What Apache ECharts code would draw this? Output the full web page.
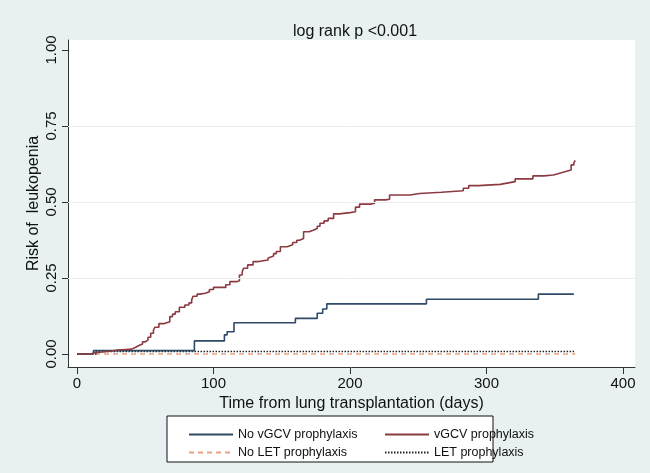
<!DOCTYPE html>
<html>
<head>
<meta charset="utf-8">
<script src="https://cdn.jsdelivr.net/npm/echarts@6/dist/echarts.min.js"></script>
<style>
  html, body { margin: 0; padding: 0; background: #e8f0f2; }
  #chart { width: 650px; height: 473px; }
</style>
</head>
<body>
<div id="chart"></div>
<script>
// tick labels
const xTicks = [0, 100, 200, 300, 400];
const yTicks = [0, 0.25, 0.5, 0.75, 1];
const yGrid = [0.25, 0.5, 0.75];

// No vGCV prophylaxis (step points: day -> cumulative risk)
const noVgcvDays = [0, 12, 86, 108, 110, 115, 160, 176, 180, 183, 256, 338, 364];
const noVgcvRisk = [0, 0.011, 0.043, 0.063, 0.073, 0.103, 0.117, 0.134, 0.148, 0.165, 0.18, 0.197, 0.197];

// vGCV prophylaxis
const vgcvDays = [0, 10, 13, 24, 30, 36, 40, 43, 45, 48, 50, 52, 54, 56, 57, 60, 64, 68, 70, 72,
  75, 79, 82, 84, 85, 88, 90, 94, 97, 100, 109, 112, 117, 119, 121, 122, 125, 129, 133, 140,
  141, 144, 146, 149, 154, 158, 161, 163, 166, 170, 173, 176, 178, 181, 184, 188, 192, 200, 204, 207,
  215, 218, 226, 229, 244, 251, 267, 283, 287, 294, 310, 316, 321, 334, 342, 349, 353, 358, 362, 364, 365];
const vgcvRisk = [0, 0.004, 0.009, 0.013, 0.015, 0.016, 0.022, 0.027, 0.033, 0.04, 0.046, 0.055, 0.068, 0.078, 0.088, 0.1, 0.106, 0.123, 0.131, 0.139,
  0.154, 0.161, 0.168, 0.178, 0.19, 0.197, 0.2, 0.205, 0.212, 0.219, 0.228, 0.238, 0.241, 0.26, 0.27, 0.282, 0.293, 0.304, 0.309, 0.316,
  0.322, 0.33, 0.337, 0.353, 0.359, 0.367, 0.374, 0.38, 0.402, 0.407, 0.413, 0.42, 0.43, 0.438, 0.446, 0.461, 0.465, 0.468, 0.483, 0.493,
  0.496, 0.507, 0.509, 0.523, 0.528, 0.532, 0.537, 0.545, 0.554, 0.558, 0.563, 0.567, 0.576, 0.586, 0.589, 0.594, 0.6, 0.605, 0.622, 0.629, 0.637];

// No LET prophylaxis
const noLetDays = [0, 365];
const noLetRisk = [0, 0];

// LET prophylaxis
const letDays = [0, 14, 365];
const letRisk = [0, 0.008, 0.008];

const toPairs = (days, risk) => days.map((d, i) => [d, risk[i]]);

const font = "'Liberation Sans', Arial, sans-serif";
const chart = echarts.init(document.getElementById("chart"));

// legend columns share the same look
const legendBase = {
  orient: "vertical",
  top: 423,
  itemWidth: 44,
  itemHeight: 13,
  itemGap: 5,
  itemStyle: { opacity: 0 }, // line only, no marker
  textStyle: { fontSize: 12.5, color: "#111", fontFamily: font },
};

const option = {
  animation: false,
  backgroundColor: "#e8f0f2",
  textStyle: { fontFamily: font },
  title: {
    text: "log rank p <0.001",
    left: 350,
    top: 19,
    textAlign: "center",
    textStyle: { fontSize: 16, fontWeight: "normal", color: "#111", fontFamily: font },
  },
  graphic: [
    {
      // legend frame
      type: "rect",
      shape: { x: 167, y: 416, width: 326, height: 46 },
      style: { fill: "#fff", stroke: "#111", lineWidth: 1 },
      z: 0,
    },
  ],
  grid: {
    left: 68,
    right: 15,
    top: 40,
    bottom: 106,
    show: true,
    backgroundColor: "#fff",
    borderWidth: 0,
  },
  legend: [
    { ...legendBase, data: ["No vGCV prophylaxis", "No LET prophylaxis"], left: 183 },
    { ...legendBase, data: ["vGCV prophylaxis", "LET prophylaxis"], left: 379 },
  ],
  xAxis: {
    type: "value",
    min: -6.6,
    max: 408.8,
    name: "Time from lung transplantation (days)",
    nameLocation: "middle",
    nameGap: 29,
    nameMoveOverlap: false,
    nameTextStyle: { fontSize: 16, color: "#111", fontFamily: font },
    axisLine: { show: true, onZero: false, lineStyle: { color: "#333", width: 1 } },
    axisTick: { show: true, length: 7, customValues: xTicks, lineStyle: { color: "#333" } },
    axisLabel: { customValues: xTicks, fontSize: 15, color: "#111", margin: 9 },
    splitLine: { show: false },
  },
  yAxis: {
    type: "value",
    min: -0.0428,
    max: 1.0329,
    name: "Risk of  leukopenia",
    nameLocation: "middle",
    nameGap: 26,
    nameMoveOverlap: false,
    nameTextStyle: { fontSize: 16, color: "#111", fontFamily: font },
    axisLine: { show: true, onZero: false, lineStyle: { color: "#333", width: 1 } },
    axisTick: { show: true, length: 6, customValues: yTicks, lineStyle: { color: "#333" } },
    axisLabel: {
      customValues: yTicks,
      rotate: 90,
      fontSize: 15,
      color: "#111",
      margin: 9,
      formatter: (v) => v.toFixed(2),
    },
    splitLine: { show: false },
  },
  series: [
    {
      name: "No LET prophylaxis",
      type: "line",
      step: "end",
      symbol: "none",
      data: toPairs(noLetDays, noLetRisk),
      color: "#eba283",
      lineStyle: { width: 1.5, type: [5, 4] },
      markLine: {
        silent: true,
        symbol: "none",
        label: { show: false },
        lineStyle: { color: "#ededed", width: 1, type: "solid" },
        data: yGrid.map((v) => ({ yAxis: v })),
      },
    },
    {
      name: "LET prophylaxis",
      type: "line",
      step: "end",
      symbol: "none",
      data: toPairs(letDays, letRisk),
      color: "#222",
      lineStyle: { width: 1.5, type: [1.5, 1.5] },
    },
    {
      name: "No vGCV prophylaxis",
      type: "line",
      step: "end",
      symbol: "none",
      data: toPairs(noVgcvDays, noVgcvRisk),
      color: "#2f4a66",
      lineStyle: { width: 1.6 },
    },
    {
      name: "vGCV prophylaxis",
      type: "line",
      step: "end",
      symbol: "none",
      data: toPairs(vgcvDays, vgcvRisk),
      color: "#8c3a42",
      lineStyle: { width: 1.6 },
    },
  ],
};

chart.setOption(option);
</script>
</body>
</html>
